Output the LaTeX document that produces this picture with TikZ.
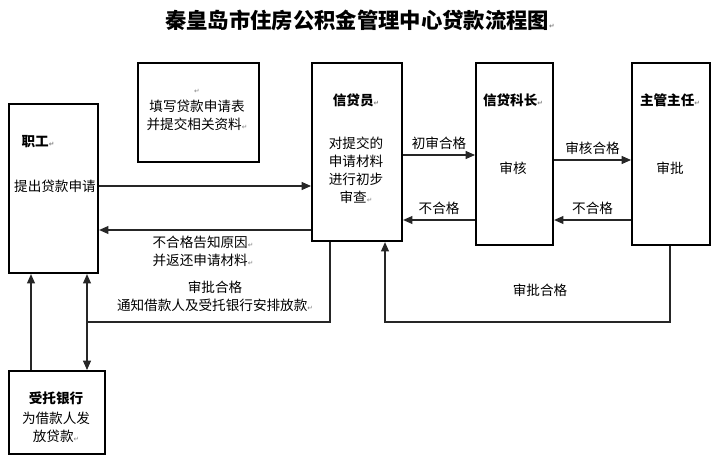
\documentclass[tikz,border=0pt]{standalone}
\usepackage{fontspec}
\setmainfont{Noto Sans CJK SC}
\newfontfamily\symfont{DejaVu Sans}
\usetikzlibrary{arrows.meta}
\newcommand{\rt}{{\symfont\tiny\color{gray}↵}}

\begin{document}
\begin{tikzpicture}
      [x=.75pt,y=-.75pt
    % boxes and connectors
      ,box/.style={draw=black,line width=1.6pt,inner sep=0pt}
      ,txt/.style={font=\fontsize{10.2}{13.5}\selectfont,align=center,inner sep=1pt}
      ,hd/.style={txt,font=\fontsize{10.2}{13.5}\selectfont\bfseries}
      ,con/.style={draw=black!85,line width=.8pt}
      ,arr/.style={con,-{Triangle[length=7pt,width=6pt]}}
      ]
    \useasboundingbox (0,0) rectangle (717,460);
    \node[font=\fontsize{16}{19}\selectfont\bfseries] (title) at (360,20) {秦皇岛市住房公积金管理中心贷款流程图\rt};

    % boxes
    \node[box,minimum width=89pt*.75,minimum height=169pt*.75,anchor=north west] (zg) at (8,103) {};
    \node[box,minimum width=121pt*.75,minimum height=99pt*.75,anchor=north west] (tx) at (137,62) {};
    \node[box,minimum width=90pt*.75,minimum height=178pt*.75,anchor=north west] (xd) at (311,62) {};
    \node[box,minimum width=77pt*.75,minimum height=182pt*.75,anchor=north west] (kz) at (475,62) {};
    \node[box,minimum width=78pt*.75,minimum height=182pt*.75,anchor=north west] (zr) at (631,62) {};
    \node[box,minimum width=96pt*.75,minimum height=83pt*.75,anchor=north west] (yh) at (8,370) {};

    % box texts
    \node[hd] (zgh) at (38,142) {职工\rt};
    \node[txt] (zgt) at (55,186) {提出贷款申请};
    \node[txt] (txt1) at (197,110) {\rt\\填写贷款申请表\\并提交相关资料\rt};
    \node[hd] (xdh) at (356,100) {信贷员\rt};
    \node[txt] (xdt) at (356,170) {对提交的\\申请材料\\进行初步\\审查\rt};
    \node[hd] (kzh) at (513,100) {信贷科长\rt};
    \node[txt] (kzt) at (513,168) {审核};
    \node[hd] (zrh) at (670,100) {主管主任\rt};
    \node[txt] (zrt) at (670,168) {审批};
    \node[hd] (yhh) at (56,398) {受托银行};
    \node[txt] (yht) at (56,427) {为借款人发\\放贷款\rt};

    % connectors
    \draw[arr] (zg.east|-0,186) -- (xd.west|-0,186);
    \draw[arr] (xd.west|-0,230) -- (zg.east|-0,230);
    \draw[arr] (xd.east|-0,155) -- node[txt,above=3pt] (l1) {初审合格} (kz.west|-0,155);
    \draw[arr] (kz.west|-0,220) -- node[txt,above=3pt] (l2) {不合格} (xd.east|-0,220);
    \draw[arr] (kz.east|-0,160) -- node[txt,above=3pt] (l3) {审核合格} (zr.west|-0,160);
    \draw[arr] (zr.west|-0,220) -- node[txt,above=3pt] (l4) {不合格} (kz.east|-0,220);
    \coordinate (c1) at (670,322);
    \coordinate (c2) at (385,322);
    \draw[arr] (zr.south-|c1) -- (c1) -- (c2) -- (xd.south-|c2);
    \node[txt] (l5) at (540,290) {审批合格};
    \coordinate (c3) at (330,322);
    \coordinate (c4) at (87,322);
    \draw[con] (xd.south-|c3) -- (c3) -- (c4);
    \draw[arr] (c4) -- (zg.south-|c4);
    \draw[arr] (c4) -- (yh.north-|c4);
    \draw[arr] (yh.north-|31,0) -- (zg.south-|31,0);
    \node[txt] (l6) at (203,251) {不合格告知原因\rt\\并返还申请材料\rt};
    \node[txt] (l7) at (215,296) {审批合格\\通知借款人及受托银行安排放款\rt};
\end{tikzpicture}
\end{document}
